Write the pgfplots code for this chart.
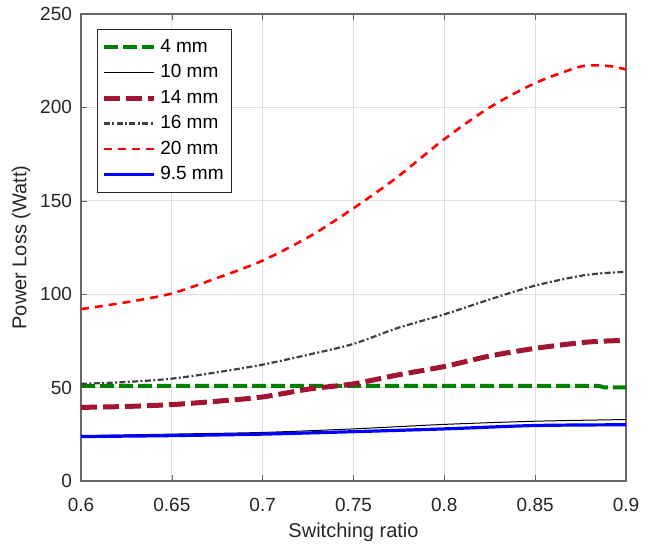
\documentclass[border=0pt]{standalone}
\usepackage{pgfplots}
\pgfplotsset{compat=1.18}
\usepackage{fontspec}
\setmainfont{Liberation Sans}
\definecolor{mgreen}{rgb}{0,0.5,0}
\definecolor{mdred}{rgb}{0.635,0.078,0.184}
\definecolor{mgray}{rgb}{0.25,0.25,0.25}
\definecolor{axgray}{rgb}{0.15,0.15,0.15}
\begin{document}
\begin{tikzpicture}
\begin{axis}[
  scale only axis,
  width=272.5pt, height=233.5pt,
  xmin=0.6, xmax=0.9, ymin=0, ymax=250,
  xtick={0.6,0.65,...,0.9},
  ytick={0,50,...,250},
  xticklabels={0.6,0.65,0.7,0.75,0.8,0.85,0.9},
  grid=major,
  major grid style={gray!25, line width=0.4pt},
  axis line style={axgray!70, line width=0.6pt},
  tick style={axgray!70},
  tick align=inside,
  major tick length=3pt,
  /pgf/number format/assume math mode=true,
  ticklabel style={font=\fontsize{9.5}{11}\selectfont, text=axgray},
  xticklabel style={yshift=-5pt},
  yticklabel style={xshift=-1pt},
  xlabel={Switching ratio},
  ylabel={Power Loss (Watt)},
  label style={font=\fontsize{10}{12}\selectfont, text=axgray},
  xlabel style={yshift=1pt},
  ylabel style={yshift=-2pt},
  legend style={at={(0.029,0.968)}, anchor=north west,
    font=\fontsize{9.5}{11}\selectfont, draw=axgray, line width=0.5pt,
    inner xsep=2pt, inner ysep=3pt, row sep=0.6pt,
    legend cell align=left},
  legend image code/.code={\draw[#1] (0pt,0pt) -- (25pt,0pt);},
]
\addplot[mgreen, line width=2pt, dash pattern=on 7pt off 2.5pt] coordinates {
(0.6,50.9) (0.65,50.9) (0.7,50.9) (0.75,50.9) (0.8,50.9) (0.85,50.9) (0.885,50.9) (0.888,50.1) (0.9,50.1)};
\addlegendentry{4 mm}
\addplot[black, line width=0.5pt, smooth] coordinates {
(0.6,24.2) (0.65,25.1) (0.7,26.0) (0.75,27.9) (0.8,30.3) (0.85,32.0) (0.9,32.9)};
\addlegendentry{10 mm}
\addplot[mdred, line width=2.5pt, dash pattern=on 8pt off 3pt, smooth] coordinates {
(0.6,39.4) (0.625,39.9) (0.65,40.9) (0.675,42.7) (0.7,45.0) (0.726,49.3) (0.75,52.0) (0.774,56.7) (0.8,61.3) (0.825,66.9) (0.85,71.0) (0.878,74.3) (0.9,75.3)};
\addlegendentry{14 mm}
\addplot[mgray, line width=1.1pt, dash pattern=on 3pt off 1.2pt on 1pt off 1.2pt, smooth] coordinates {
(0.6,52.0) (0.625,53.0) (0.65,54.8) (0.675,58.2) (0.7,62.3) (0.726,67.8) (0.75,73.4) (0.774,81.8) (0.8,89.2) (0.825,97.2) (0.85,104.6) (0.878,110.3) (0.9,112.0)};
\addlegendentry{16 mm}
\addplot[red, line width=1.3pt, dash pattern=on 4pt off 3pt, smooth] coordinates {
(0.6,92.0) (0.625,95.7) (0.65,100.4) (0.675,108.7) (0.7,118.0) (0.726,131.0) (0.75,146.0) (0.774,162.6) (0.8,183.0) (0.825,200.0) (0.85,213.0) (0.873,221.3) (0.882,222.5) (0.892,222.0) (0.9,220.3)};
\addlegendentry{20 mm}
\addplot[blue, line width=1.6pt, smooth] coordinates {
(0.6,23.8) (0.65,24.3) (0.7,25.1) (0.75,26.4) (0.8,27.9) (0.85,29.7) (0.9,30.1)};
\addlegendentry{9.5 mm}
\end{axis}
\path (current axis.south west) ++(-40.5pt,-31.5pt) coordinate (bl);
\path (current axis.north east) ++(15pt,7pt) coordinate (tr);
\useasboundingbox (bl) rectangle (tr);
\end{tikzpicture}
\end{document}
